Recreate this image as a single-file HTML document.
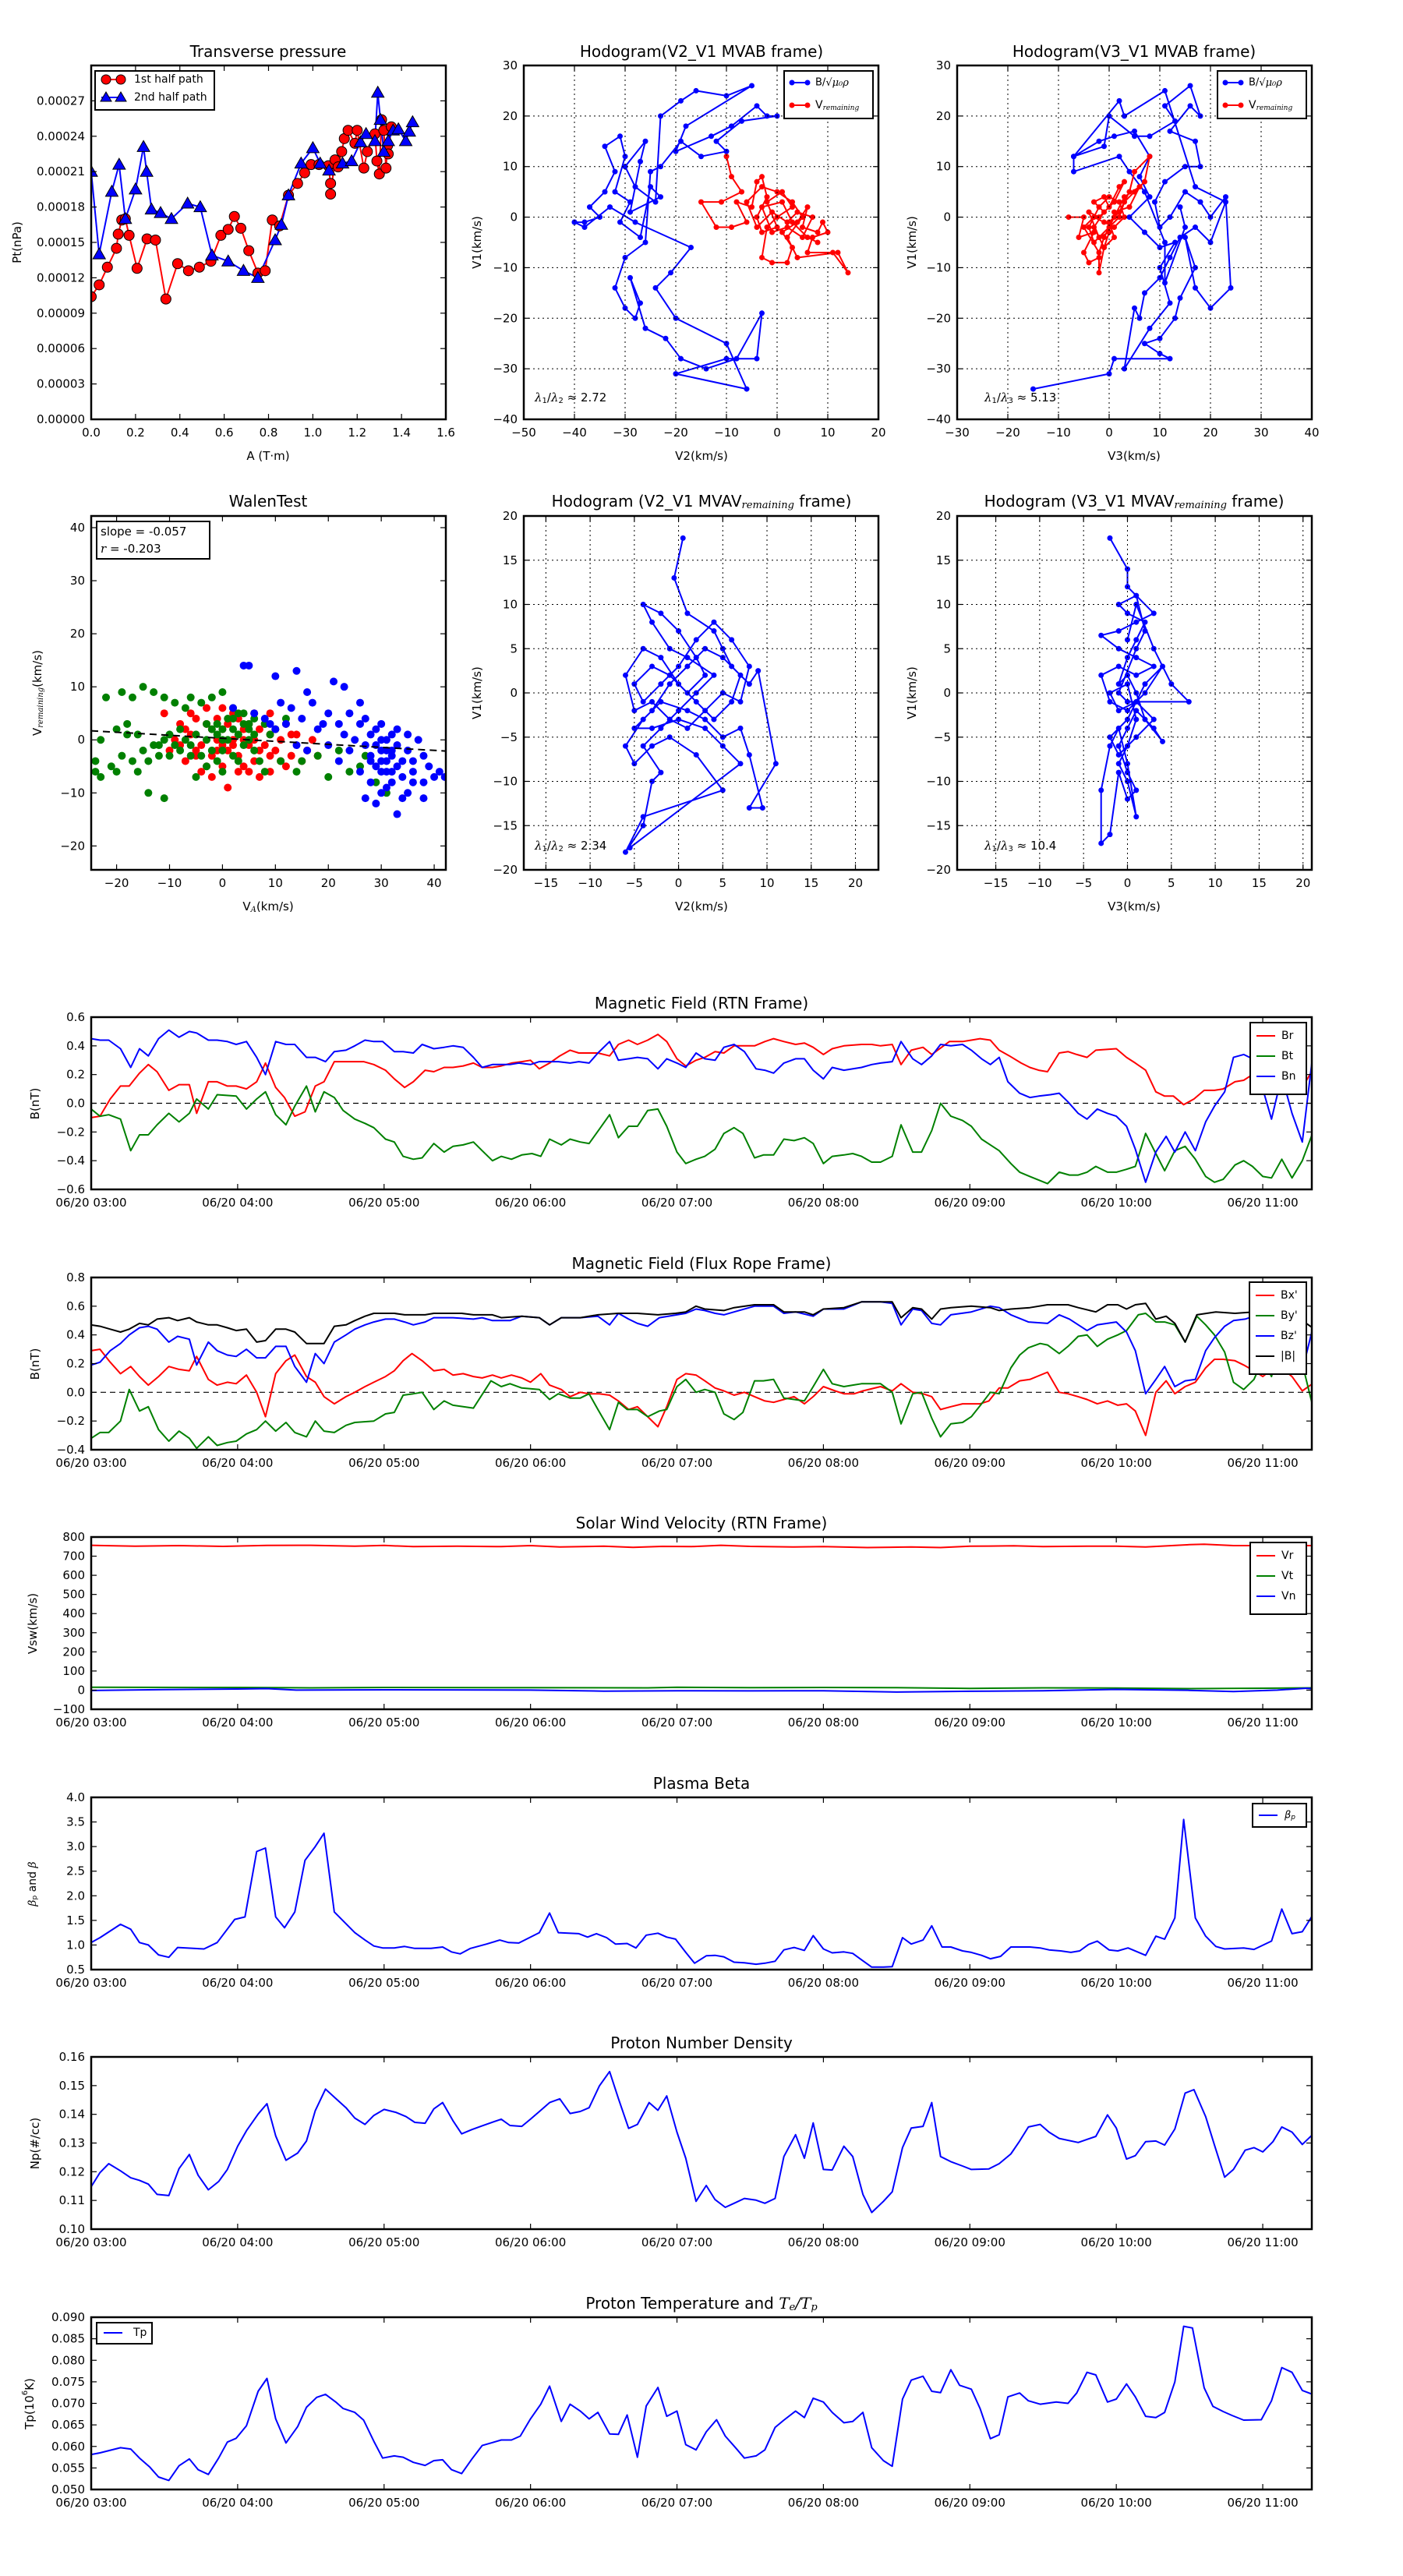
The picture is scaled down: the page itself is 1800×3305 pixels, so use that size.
<!DOCTYPE html>
<html><head><meta charset="utf-8"><style>
html,body{margin:0;padding:0;background:#fff}
svg text{font-family:"DejaVu Sans","Liberation Sans",sans-serif;fill:#000}
</style></head><body>
<svg id="fig" xmlns="http://www.w3.org/2000/svg" width="1800" height="3300" viewBox="0 0 1800 3300"></svg>
<script>
// ---------- DATA ----------
// Transverse pressure
const ptA1=[0,.036,.073,.114,.122,.138,.154,.171,.207,.252,.29,.337,.39,.439,.488,.54,.585,.618,.646,.675,.711,.752,.785,.817,.85,.89,.931,.963,.992,1.028,1.07,1.08,1.08,1.1,1.114,1.13,1.142,1.159,1.19,1.2,1.23,1.246,1.28,1.289,1.3,1.31,1.32,1.33,1.337,1.354,1.34];
const ptP1=[104,114,129,145,157,169,170,156,128,153,152,102,132,126,129,134,156,161,172,162,143,124,126,169,164,190,200,209,216,216,215,200,191,220,214,227,238,245,234,245,213,227,242,219,208,254,245,213,232,248,225];
const ptA2=[0,.036,.093,.126,.154,.2,.236,.25,.272,.313,.362,.435,.492,.545,.618,.687,.752,.83,.858,.89,.947,1.0,1.033,1.073,1.134,1.175,1.215,1.24,1.28,1.293,1.305,1.32,1.34,1.362,1.386,1.419,1.435,1.45];
const ptP2=[210,140,193,216,170,195,231,210,178,175,170,183,180,139,134,126,120,152,165,190,217,230,217,211,217,219,235,242,236,277,254,227,236,245,246,236,244,252];
// Hodogram V2-V1 MVAB
const h1Bx=[-40,-38,-35,-37,-34,-32,-34,-31,-30,-32,-29,-31,-27,-25,-23,-29,-27,-26,-30,-28,-24,-23,-19,-16,-10,-5,-18,-20,-13,-9,-4,-2,0,-7,-12,-10,-15,-19,-23,-25,-26,-30,-32,-30,-28,-27,-29,-26,-22,-19,-14,-8,-3,-4,-10,-20,-6,-10,-20,-24,-21,-17,-28,-33,-38,-40];
const h1By=[-1,-1,0,2,5,9,14,16,12,5,3,-1,-4,6,4,1,11,15,10,6,3,20,23,25,24,26,18,13,16,18,22,20,20,19,15,13,12,15,10,9,-5,-8,-14,-18,-20,-17,-12,-22,-24,-28,-30,-28,-19,-28,-28,-31,-34,-25,-20,-14,-11,-6,-1,2,-2,-1];
const h1Vx=[-10,-9,-7,-11,-15,-12,-9,-6,-8,-5,-4,-3,-2,-4,-3,0,-2,1,3,0,-2,-3,-1,2,3,1,4,6,5,8,9,10,7,6,11,14,12,4,2,5,3,0,-3,-6,-4,-1,2,4,7,5,2,-1,-3,1,3,6,8];
const h1Vy=[12,8,5,3,3,-2,-2,-1,3,2,7,8,4,0,-3,-2,3,5,2,0,-2,-8,-9,-9,-6,-3,-1,2,-2,-3,-1,-3,-4,-7,-7,-11,-7,-8,-4,0,3,5,6,3,-2,1,-1,1,0,-4,-2,-3,2,3,-1,-4,-5];
// Hodogram V3-V1 MVAB
const h2Bx=[-15,0,1,12,10,7,10,13,14,17,15,17,20,24,23,20,18,15,12,10,9,11,15,18,17,12,16,18,16,11,13,8,5,0,-1,-7,-2,1,5,8,6,8,4,7,10,13,10,12,8,3,5,6,7,10,12,14,17,20,23,17,11,3,2,-7,-7,2,4,7,11,11,15,14];
const h2By=[-34,-31,-28,-28,-27,-25,-24,-20,-16,-10,-4,-14,-18,-14,4,0,3,5,0,-2,3,7,10,10,15,17,22,20,26,22,19,16,16,20,14,12,15,16,17,12,8,4,0,-3,-6,-5,-10,-17,-22,-30,-18,-20,-15,-12,-8,-4,-2,-5,3,6,25,20,23,12,9,12,9,5,-5,-13,-2,2];
const h2Vx=[-8,-5,-6,-3,-5,-4,-2,-2,-1,-3,-1,-3,-1,0,2,3,1,-2,-4,-2,0,-1,1,0,2,4,5,8,7,5,3,2,0,-3,-4,-2,0,2,3,1,-1,-3,-5,-2,-1,1,3,6,4,1];
const h2Vy=[0,0,-4,-3,-7,-9,-8,-11,-6,-2,1,3,4,2,6,7,3,0,1,-4,-3,-6,-4,-1,1,5,9,12,7,5,3,0,-2,-5,-2,2,4,3,0,-2,-1,0,-2,-7,-4,0,4,6,2,1];
// Walen test
const wGx=[-24,-23,-21,-20,-19,-18,-17,-16,-15,-14,-14,-13,-12,-12,-11,-11,-10,-9,-8,-8,-7,-6,-5,-5,-4,-3,-3,-2,-1,-1,0,0,1,1,2,2,3,3,4,4,5,5,6,7,8,9,10,11,12,-22,-19,-17,-15,-13,-11,-9,-7,-6,-4,-2,0,2,-18,-16,-20,-23,-24,-10,-6,-3,0,3,6,8,15,14,18,20,22,24,27,29,31,26,-1,2,4,5,6,-2,0];
const wGy=[-6,-7,-5,-6,-3,1,-4,-6,-2,-4,-10,-1,-3,-1,0,-11,1,-1,-2,2,0,-1,1,-7,-3,0,3,-2,1,-4,-2,2,0,4,-3,2,1,5,-1,3,2,0,4,-4,3,1,2,-4,4,8,9,8,10,9,8,7,6,8,7,8,9,6,3,1,2,0,-4,-3,-3,-5,-6,-4,-2,-6,-4,-6,-3,-7,-2,-6,-3,-8,-10,-5,3,4,5,3,1,2,0];
const wRx=[-11,-10,-8,-7,-6,-5,-5,-4,-3,-3,-2,-2,-1,-1,0,0,1,1,2,2,3,3,4,4,5,5,6,6,7,7,8,8,9,9,10,10,11,12,13,14,15,-9,-7,-4,-2,0,1,3,5,7,9,11,-6,-3,0,3,6,9,12,-1,2,4,-5,-8,13,16,17,18];
const wRy=[5,-2,3,-4,1,-2,4,-1,3,-5,2,-3,0,4,-1,2,-2,3,0,5,-3,1,2,-5,-1,3,0,-4,2,-2,-1,3,-3,1,-2,2,0,-5,-3,1,-4,0,2,-6,-7,-5,-9,-6,-6,-7,-6,-4,5,6,6,4,5,5,3,-2,-1,0,-3,-1,1,-2,0,-3];
const wBx=[4,5,10,14,16,21,23,26,2,6,9,11,13,15,17,19,20,22,23,24,25,26,27,28,28,29,29,30,30,31,31,32,32,33,33,34,35,35,36,36,37,38,38,39,40,41,42,27,33,31,29,34,18,16,14,12,10,8,20,22,24,26,28,30,32,34,36,38,27,30,32,33,35,29,30,31,28,30,31,32];
const wBy=[14,14,12,13,9,11,10,7,6,5,3,7,6,4,7,3,5,3,1,5,0,3,-1,1,-3,-5,2,-2,-6,0,-4,-3,-8,-1,-5,-7,-2,-10,-6,-4,0,-3,-8,-5,-7,-6,-7,-11,-14,-9,-12,-11,2,-2,-1,3,2,4,-1,-4,-2,-6,-8,-10,-6,-4,-8,-11,4,3,1,2,1,-1,0,-2,-4,-4,-6,-2];
const wSlope=-0.057, wIntercept=0.3;
// Hodogram remaining frames
const h3x=[0.5,-0.5,1,4,5,6,8,9,11,8,9.5,8,7,5,3,1,-2,-4,-6,-5,-3,-1,2,5,-4,-6,-4,-3,-2,-4,-2,0,2,4,1,-1,-3,-4,-2,0,2,3,1,-1,-3,-5,-4,-2,0,2,4,6,8,7,5,3,1,-1,-3,-5,-6,-4,-2,0,2,4,6,7,5,3,1,-1,-3,-5,-3,0,3,5,7,-5.5];
const h3y=[17.5,13,9,7,5,3,1,2.5,-8,-13,-13,-7,-4,-5,-3,-2,-1,-3,-6,-8,-6,-5,-7,-11,-14,-18,-15,-10,-9,-6,-4,-2,0,2,4,5,8,10,9,7,4,2,0,2,3,1,-1,1,3,6,8,6,3,-1,0,-2,-4,-3,-1,-2,2,5,4,1,-1,-3,-1,2,4,5,3,1,-2,-4,-4,-3,-4,-6,-8,-17.5];
const h4x=[-2,0,0,3,1,-1,-3,-1,1,3,1,-1,-3,-2,0,2,4,2,0,-2,-1,1,3,1,-1,-2,0,1,0,-1,0,1,0,-1,-2,-3,-3,-2,-1,0,1,0,-1,0,1,3,4,2,1,0,-1,0,1,2,0,-1,1,2,1,-1,0,7,5,3,1,0];
const h4y=[17.5,14,12,9,8,7,6.5,5,4,3,2,3,2,-1,-2,0,3,1,-3,-5,-7,-5,-3,-1,-2,0,1,-3,-6,-8,-10,-14,-8,-4,-6,-11,-17,-16,-9,-12,-11,-9,-6,-4,-2,-4,-5.5,-3,0,2,1,4,6,8,9,10,11,7,5,0,-1,-1,1,5,10,6];
// Time series (hours after 03:00)
const tBr=[0,.06,.13,.2,.26,.33,.39,.45,.53,.6,.67,.72,.8,.86,.93,.99,1.06,1.13,1.19,1.26,1.32,1.39,1.46,1.53,1.59,1.66,1.72,1.8,1.86,1.93,2.01,2.07,2.14,2.2,2.28,2.34,2.41,2.47,2.54,2.61,2.67,2.74,2.8,2.87,2.94,3.0,3.06,3.13,3.2,3.27,3.33,3.4,3.46,3.54,3.6,3.67,3.73,3.8,3.87,3.93,4.0,4.06,4.13,4.19,4.26,4.32,4.39,4.53,4.6,4.66,4.73,4.81,4.87,4.93,5.0,5.06,5.14,5.26,5.33,5.39,5.47,5.53,5.6,5.68,5.74,5.86,5.95,6.01,6.07,6.14,6.2,6.27,6.35,6.41,6.47,6.53,6.61,6.67,6.73,6.8,6.86,7.0,7.07,7.13,7.2,7.27,7.33,7.39,7.46,7.53,7.6,7.67,7.73,7.81,7.87,7.93,8.0,8.06,8.13,8.2,8.27,8.34];
const vBr=[-.10,-.09,.03,.12,.12,.21,.27,.22,.09,.13,.13,-.07,.15,.15,.12,.12,.10,.15,.28,.11,.04,-.09,-.06,.12,.15,.29,.29,.29,.29,.27,.23,.17,.11,.15,.23,.22,.25,.25,.26,.28,.25,.25,.26,.28,.29,.30,.24,.28,.33,.37,.35,.35,.35,.33,.41,.44,.41,.44,.48,.43,.31,.26,.30,.32,.36,.35,.40,.40,.43,.45,.43,.41,.42,.39,.34,.38,.40,.41,.41,.40,.41,.27,.37,.39,.34,.43,.43,.44,.45,.44,.37,.33,.28,.25,.23,.22,.35,.36,.34,.32,.37,.38,.32,.28,.23,.08,.05,.05,-.01,.03,.09,.09,.10,.15,.16,.20,.16,.15,.14,.12,.11,.23];
const tBt=[0,.06,.12,.2,.27,.33,.39,.45,.53,.6,.67,.72,.8,.86,.99,1.06,1.13,1.19,1.26,1.33,1.39,1.47,1.53,1.59,1.66,1.72,1.8,1.87,1.93,2.01,2.07,2.13,2.2,2.26,2.34,2.41,2.47,2.54,2.61,2.67,2.74,2.8,2.87,2.94,3.01,3.07,3.13,3.21,3.27,3.34,3.4,3.47,3.54,3.6,3.67,3.73,3.8,3.87,3.93,4.0,4.06,4.13,4.19,4.26,4.32,4.39,4.45,4.53,4.59,4.66,4.73,4.8,4.87,4.93,5.0,5.06,5.14,5.2,5.26,5.33,5.39,5.47,5.53,5.61,5.67,5.74,5.8,5.87,5.95,6.01,6.08,6.14,6.2,6.28,6.34,6.41,6.53,6.61,6.68,6.74,6.8,6.86,6.94,7.0,7.07,7.13,7.2,7.27,7.33,7.4,7.47,7.54,7.61,7.67,7.73,7.81,7.87,7.93,8.0,8.06,8.13,8.2,8.27,8.34];
const vBt=[-.04,-.09,-.08,-.11,-.33,-.22,-.22,-.15,-.07,-.13,-.07,.03,-.04,.06,.05,-.04,.03,.08,-.08,-.15,-.02,.12,-.06,.08,.04,-.05,-.11,-.14,-.17,-.25,-.27,-.37,-.39,-.38,-.28,-.34,-.30,-.29,-.27,-.33,-.40,-.37,-.39,-.36,-.35,-.37,-.25,-.29,-.25,-.27,-.28,-.18,-.08,-.24,-.16,-.16,-.05,-.04,-.16,-.34,-.42,-.39,-.37,-.32,-.21,-.17,-.21,-.38,-.36,-.36,-.25,-.26,-.24,-.28,-.42,-.37,-.36,-.35,-.37,-.41,-.41,-.37,-.15,-.34,-.34,-.19,.00,-.09,-.12,-.16,-.25,-.29,-.33,-.42,-.48,-.51,-.56,-.48,-.50,-.50,-.48,-.44,-.48,-.48,-.46,-.44,-.21,-.35,-.47,-.33,-.30,-.39,-.51,-.55,-.53,-.43,-.40,-.44,-.51,-.52,-.39,-.52,-.40,-.21];
const tBn=[0,.06,.12,.2,.27,.33,.39,.46,.53,.6,.67,.72,.8,.86,.93,.99,1.06,1.13,1.19,1.26,1.33,1.39,1.47,1.53,1.6,1.66,1.74,1.8,1.87,1.93,1.99,2.07,2.13,2.2,2.26,2.34,2.41,2.47,2.54,2.61,2.67,2.74,2.86,2.92,3.0,3.06,3.19,3.27,3.33,3.4,3.46,3.54,3.6,3.67,3.73,3.8,3.87,3.93,4.0,4.06,4.13,4.19,4.26,4.32,4.39,4.46,4.54,4.6,4.66,4.73,4.81,4.87,4.93,5.0,5.06,5.14,5.26,5.33,5.39,5.47,5.53,5.61,5.67,5.74,5.8,5.87,5.95,6.01,6.08,6.14,6.2,6.26,6.34,6.41,6.47,6.55,6.61,6.67,6.74,6.8,6.87,6.94,7.0,7.07,7.13,7.2,7.27,7.34,7.4,7.47,7.54,7.61,7.67,7.74,7.8,7.87,7.93,8.0,8.06,8.13,8.2,8.27,8.34];
const vBn=[.45,.44,.44,.38,.25,.38,.33,.45,.51,.46,.50,.49,.44,.44,.43,.41,.43,.32,.20,.43,.41,.41,.32,.32,.29,.36,.37,.40,.44,.43,.43,.36,.36,.35,.41,.38,.39,.40,.39,.32,.25,.27,.27,.28,.27,.29,.29,.28,.29,.28,.35,.43,.30,.31,.32,.31,.24,.31,.28,.25,.35,.31,.30,.39,.41,.36,.24,.23,.21,.28,.31,.31,.23,.17,.25,.23,.25,.27,.28,.29,.43,.31,.27,.33,.41,.40,.41,.37,.31,.27,.32,.15,.07,.04,.05,.06,.07,.01,-.07,-.11,-.04,-.07,-.09,-.16,-.32,-.55,-.34,-.23,-.34,-.20,-.33,-.13,-.02,.08,.32,.34,.31,.10,-.11,.19,-.07,-.27,.32];
const tB=[0,.06,.13,.2,.26,.33,.39,.45,.53,.59,.67,.72,.8,.86,.93,.99,1.06,1.13,1.19,1.26,1.33,1.39,1.47,1.59,1.66,1.74,1.8,1.87,1.93,2.07,2.14,2.28,2.34,2.53,2.61,2.74,2.8,2.94,3.06,3.13,3.21,3.34,3.46,3.6,3.73,3.87,3.99,4.06,4.13,4.19,4.32,4.39,4.53,4.66,4.73,4.87,4.93,5.0,5.14,5.26,5.39,5.47,5.53,5.61,5.67,5.74,5.8,5.87,6.01,6.14,6.2,6.28,6.41,6.53,6.67,6.74,6.86,6.94,7.01,7.07,7.13,7.2,7.27,7.34,7.4,7.47,7.55,7.68,7.81,7.94,8.06,8.13,8.2,8.27,8.34];
const vB=[.47,.46,.44,.42,.44,.48,.47,.51,.52,.50,.52,.49,.47,.47,.45,.43,.44,.35,.36,.44,.44,.42,.34,.34,.46,.47,.50,.53,.55,.55,.54,.54,.55,.55,.54,.54,.52,.53,.52,.47,.52,.52,.54,.55,.55,.54,.55,.56,.60,.58,.57,.59,.61,.61,.56,.56,.54,.58,.59,.63,.63,.63,.52,.59,.58,.51,.58,.59,.60,.59,.57,.58,.59,.61,.61,.59,.56,.61,.61,.58,.61,.62,.51,.53,.48,.35,.54,.56,.55,.56,.56,.57,.56,.50,.45];
const tBz=[0,.06,.13,.2,.26,.33,.39,.45,.53,.59,.67,.72,.8,.86,.93,.99,1.06,1.13,1.19,1.26,1.33,1.39,1.47,1.53,1.59,1.66,1.74,1.8,1.87,1.93,2.01,2.07,2.14,2.2,2.28,2.34,2.47,2.61,2.67,2.74,2.86,2.94,3.06,3.13,3.21,3.34,3.46,3.54,3.6,3.67,3.73,3.8,3.88,4.0,4.06,4.13,4.19,4.26,4.32,4.39,4.53,4.66,4.73,4.81,4.93,5.0,5.14,5.26,5.39,5.47,5.53,5.61,5.67,5.74,5.8,5.87,6.01,6.14,6.2,6.28,6.4,6.53,6.61,6.68,6.8,6.87,7.0,7.07,7.13,7.2,7.27,7.33,7.4,7.47,7.54,7.61,7.67,7.74,7.8,7.88,7.94,8.06,8.13,8.2,8.27,8.34];
const vBz=[.19,.21,.29,.34,.40,.45,.46,.44,.35,.39,.37,.19,.35,.29,.26,.25,.30,.24,.24,.32,.32,.18,.07,.27,.20,.35,.40,.44,.47,.49,.51,.51,.49,.47,.49,.52,.52,.51,.52,.50,.50,.53,.52,.47,.52,.52,.53,.47,.55,.51,.48,.46,.52,.54,.55,.58,.57,.55,.54,.56,.60,.60,.55,.56,.53,.58,.58,.63,.63,.62,.47,.58,.57,.48,.47,.54,.56,.60,.59,.54,.49,.48,.54,.51,.43,.47,.49,.42,.29,-.01,.09,.18,.04,.08,.09,.29,.38,.46,.50,.51,.53,.53,.55,.35,.15,.44];
const tBx=[0,.06,.13,.2,.27,.33,.39,.46,.53,.6,.67,.72,.8,.86,.93,.99,1.06,1.13,1.19,1.26,1.33,1.39,1.47,1.53,1.59,1.66,1.74,1.8,1.87,1.93,2.01,2.07,2.13,2.19,2.26,2.34,2.41,2.47,2.54,2.61,2.67,2.74,2.8,2.87,2.94,3.0,3.07,3.13,3.21,3.27,3.34,3.4,3.47,3.54,3.6,3.67,3.73,3.8,3.87,3.93,4.0,4.06,4.13,4.19,4.26,4.32,4.39,4.46,4.53,4.6,4.66,4.73,4.8,4.87,4.93,5.0,5.08,5.14,5.21,5.27,5.39,5.47,5.53,5.61,5.68,5.74,5.8,5.87,5.95,6.07,6.13,6.2,6.26,6.34,6.41,6.53,6.61,6.67,6.74,6.8,6.87,6.94,7.01,7.07,7.13,7.2,7.27,7.34,7.4,7.47,7.54,7.61,7.67,7.73,7.81,7.87,7.94,8.0,8.06,8.13,8.2,8.27,8.34];
const vBx=[.29,.30,.21,.13,.18,.11,.05,.11,.18,.16,.15,.25,.09,.05,.07,.06,.12,.00,-.17,.13,.22,.26,.11,.07,-.03,-.08,-.03,.00,.04,.07,.11,.15,.22,.27,.22,.15,.16,.12,.13,.11,.10,.12,.10,.12,.10,.07,.13,.05,.02,-.03,.00,-.01,-.01,-.02,-.06,-.12,-.10,-.17,-.24,-.10,.09,.13,.12,.08,.03,.01,-.02,.00,-.03,-.06,-.07,-.05,-.03,-.08,-.03,.04,.01,-.01,-.01,.01,.04,.01,.06,.00,-.01,-.03,-.12,-.10,-.08,-.08,-.06,.03,.03,.08,.09,.14,.00,-.01,-.03,-.05,-.08,-.06,-.09,-.08,-.13,-.30,.00,.08,-.01,.04,.07,.17,.23,.23,.22,.19,.15,.11,.16,.17,.11,.01,.06];
const tBy=[0,.06,.12,.2,.26,.33,.39,.46,.53,.6,.67,.72,.8,.86,.93,.99,1.06,1.13,1.19,1.26,1.33,1.39,1.47,1.53,1.59,1.66,1.74,1.8,1.93,2.01,2.07,2.13,2.2,2.26,2.34,2.41,2.47,2.61,2.73,2.8,2.86,2.94,3.06,3.13,3.19,3.27,3.34,3.4,3.46,3.54,3.6,3.66,3.73,3.8,3.88,3.93,4.0,4.06,4.13,4.19,4.26,4.32,4.39,4.45,4.53,4.59,4.66,4.73,4.8,4.87,4.93,5.0,5.06,5.14,5.2,5.26,5.39,5.47,5.53,5.61,5.67,5.74,5.8,5.87,5.95,6.01,6.08,6.14,6.2,6.28,6.34,6.4,6.48,6.53,6.61,6.67,6.74,6.8,6.87,6.94,7.01,7.07,7.15,7.2,7.27,7.33,7.4,7.47,7.55,7.61,7.67,7.74,7.8,7.87,7.94,8.0,8.06,8.13,8.2,8.27,8.34];
const vBy=[-.32,-.28,-.28,-.20,.02,-.13,-.10,-.26,-.34,-.27,-.32,-.39,-.31,-.37,-.35,-.34,-.29,-.26,-.20,-.27,-.21,-.28,-.31,-.20,-.27,-.28,-.23,-.21,-.20,-.15,-.14,-.02,-.01,.00,-.12,-.06,-.09,-.11,.08,.04,.06,.03,.02,-.05,-.01,-.04,-.04,-.01,-.12,-.26,-.07,-.12,-.12,-.17,-.13,-.12,.04,.09,.00,.02,.00,-.15,-.19,-.14,.08,.08,.09,-.04,-.05,-.06,.04,.16,.06,.04,.05,.06,.06,.00,-.22,-.01,.00,-.18,-.31,-.22,-.21,-.17,-.08,.00,-.01,.17,.26,.31,.34,.33,.27,.32,.39,.40,.32,.37,.40,.43,.54,.55,.49,.49,.47,.35,.53,.47,.40,.28,.07,.02,.09,.23,.11,.40,.51,.20,-.09];
const tVr=[0,.3,.6,.9,1.2,1.5,1.8,2.0,2.2,2.5,2.8,3.0,3.2,3.5,3.7,3.9,4.1,4.3,4.5,4.8,5.0,5.3,5.6,5.8,6.0,6.3,6.5,6.8,7.0,7.2,7.5,7.6,7.8,8.1,8.34];
const vVr=[757,752,755,751,756,757,752,756,750,752,750,755,748,752,746,751,750,757,751,748,750,745,748,745,752,754,750,752,752,748,760,762,755,755,755];
const tVt=[0,1,1.5,2,3,3.8,4,4.5,5,5.5,6,6.5,7,7.5,8,8.34];
const vVt=[15,14,12,14,13,12,15,13,14,13,9,12,11,8,10,12];
const tVn=[0,.5,1,1.2,1.4,2,3,3.5,4,4.5,5,5.5,6,6.5,7,7.5,7.8,8.1,8.3,8.34];
const vVn=[-2,3,6,8,0,2,0,-5,-3,-4,-3,-10,-6,-3,4,-1,-7,0,10,7];
const tBeta=[0,.06,.2,.27,.33,.39,.46,.53,.59,.77,.86,.98,1.05,1.13,1.19,1.26,1.32,1.39,1.46,1.53,1.59,1.66,1.8,1.87,1.93,1.99,2.07,2.14,2.21,2.32,2.4,2.46,2.52,2.59,2.7,2.79,2.85,2.92,3.06,3.13,3.19,3.33,3.39,3.45,3.52,3.58,3.66,3.72,3.79,3.87,3.93,3.99,4.06,4.12,4.2,4.26,4.32,4.39,4.46,4.54,4.6,4.67,4.73,4.8,4.87,4.93,5.0,5.06,5.14,5.2,5.26,5.33,5.41,5.47,5.54,5.6,5.68,5.74,5.81,5.87,5.95,6.01,6.08,6.14,6.21,6.28,6.41,6.48,6.54,6.62,6.69,6.75,6.81,6.87,6.95,7.01,7.08,7.2,7.27,7.33,7.4,7.46,7.54,7.61,7.68,7.74,7.87,7.94,8.06,8.13,8.2,8.27,8.34];
const vBeta=[1.05,1.15,1.42,1.32,1.05,1.0,.8,.75,.95,.92,1.05,1.52,1.57,2.9,2.97,1.57,1.35,1.67,2.72,3.0,3.27,1.67,1.25,1.1,.98,.94,.94,.97,.93,.93,.96,.86,.82,.93,1.02,1.1,1.05,1.04,1.25,1.65,1.25,1.23,1.16,1.23,1.15,1.02,1.03,.94,1.2,1.24,1.16,1.12,.85,.63,.78,.79,.76,.65,.64,.61,.63,.67,.9,.95,.89,1.19,.92,.84,.86,.83,.7,.55,.55,.56,1.15,1.02,1.1,1.39,.96,.96,.88,.85,.79,.72,.77,.96,.96,.94,.9,.88,.85,.88,1.01,1.08,.9,.88,.94,.79,1.18,1.12,1.55,3.55,1.55,1.18,.97,.92,.94,.91,1.08,1.73,1.23,1.27,1.6];
const tNp=[0,.06,.12,.2,.27,.33,.39,.45,.53,.6,.67,.73,.8,.87,.93,1.0,1.06,1.14,1.2,1.26,1.33,1.41,1.47,1.53,1.6,1.67,1.74,1.8,1.87,1.93,2.0,2.08,2.15,2.21,2.28,2.34,2.4,2.47,2.53,2.6,2.67,2.8,2.86,2.94,3.0,3.07,3.13,3.2,3.27,3.34,3.4,3.47,3.54,3.6,3.67,3.73,3.81,3.87,3.93,4.0,4.06,4.13,4.2,4.26,4.33,4.39,4.46,4.54,4.6,4.67,4.73,4.81,4.87,4.93,5.0,5.06,5.14,5.2,5.27,5.33,5.41,5.47,5.54,5.6,5.68,5.74,5.8,5.87,5.95,6.01,6.13,6.2,6.28,6.34,6.4,6.48,6.54,6.61,6.74,6.86,6.94,7.0,7.07,7.13,7.2,7.27,7.33,7.4,7.47,7.53,7.61,7.67,7.74,7.8,7.88,7.94,8.0,8.07,8.13,8.2,8.27,8.34];
const vNp=[.1148,.1197,.1228,.1203,.1179,.1170,.1157,.1121,.1117,.1211,.1260,.1188,.1137,.1166,.1208,.1289,.1343,.1401,.1437,.1325,.1240,.1265,.1307,.1413,.1488,.1455,.1423,.1387,.1365,.1396,.1417,.1407,.1392,.1372,.1369,.1419,.1441,.1378,.1332,.1347,.1360,.1383,.1361,.1358,.1383,.1414,.1441,.1454,.1403,.1410,.1423,.1499,.1549,.1455,.1351,.1365,.1441,.1414,.1464,.1338,.1247,.1097,.1152,.1103,.1076,.1090,.1107,.1101,.1090,.1107,.1253,.1329,.1247,.1370,.1208,.1206,.1289,.1253,.1121,.1058,.1097,.1130,.1284,.1352,.1358,.1441,.1253,.1235,.1220,.1208,.1210,.1228,.1262,.1307,.1356,.1365,.1338,.1316,.1302,.1323,.1398,.1352,.1244,.1256,.1305,.1307,.1293,.1349,.1474,.1486,.1392,.1293,.1181,.1208,.1275,.1284,.1269,.1305,.1356,.1338,.1295,.1329];
const tTp=[0,.06,.2,.27,.33,.4,.46,.53,.6,.67,.73,.8,.87,.93,.99,1.06,1.14,1.2,1.26,1.33,1.41,1.47,1.54,1.6,1.67,1.72,1.8,1.86,1.93,1.99,2.07,2.13,2.2,2.28,2.34,2.4,2.46,2.53,2.6,2.67,2.74,2.8,2.87,2.93,3.0,3.07,3.13,3.21,3.27,3.34,3.4,3.46,3.54,3.6,3.66,3.73,3.79,3.87,3.93,4.0,4.06,4.13,4.2,4.27,4.33,4.4,4.46,4.54,4.6,4.67,4.73,4.81,4.87,4.93,5.0,5.06,5.14,5.2,5.27,5.33,5.41,5.47,5.54,5.6,5.68,5.74,5.8,5.87,5.93,6.01,6.07,6.14,6.2,6.26,6.34,6.4,6.48,6.59,6.67,6.73,6.8,6.86,6.94,7.0,7.07,7.13,7.2,7.27,7.33,7.4,7.46,7.52,7.6,7.66,7.73,7.79,7.87,7.99,8.06,8.13,8.2,8.27,8.34];
const vTp=[.0581,.0585,.0597,.0594,.0573,.0552,.0529,.0521,.0555,.0571,.0546,.0535,.0573,.0610,.0619,.0648,.0728,.0758,.0664,.0608,.0646,.0691,.0714,.0721,.0703,.0688,.0679,.0661,.0612,.0573,.0578,.0575,.0563,.0556,.0567,.0569,.0546,.0537,.0571,.0602,.0609,.0615,.0615,.0624,.0664,.0698,.0740,.0658,.0698,.0682,.0664,.0679,.0629,.0628,.0673,.0575,.0694,.0737,.0670,.0682,.0604,.0592,.0634,.0662,.0624,.0597,.0573,.0578,.0592,.0644,.0661,.0682,.0667,.0712,.0703,.0679,.0655,.0658,.0679,.0597,.0567,.0554,.0710,.0754,.0763,.0728,.0725,.0778,.0742,.0733,.0688,.0618,.0627,.0715,.0724,.0706,.0698,.0703,.0700,.0724,.0772,.0766,.0703,.0710,.0745,.0715,.0670,.0667,.0679,.0750,.0879,.0875,.0736,.0693,.0681,.0672,.0661,.0662,.0706,.0783,.0772,.0730,.0721];
const hourLabels=["06/20 03:00","06/20 04:00","06/20 05:00","06/20 06:00","06/20 07:00","06/20 08:00","06/20 09:00","06/20 10:00","06/20 11:00"];

// ---------- DRAWING ----------
const NS='http://www.w3.org/2000/svg';
const svg=document.getElementById('fig');
function mk(tag,attrs,parent){const e=document.createElementNS(NS,tag);for(const k in attrs)e.setAttribute(k,attrs[k]);(parent||svg).appendChild(e);return e;}
function txt(s,x,y,size,anchor,parent,rot){const t=mk('text',{x:x,y:y,'font-size':size,'text-anchor':anchor||'middle','dominant-baseline':'central'},parent);if(rot)t.setAttribute('transform','rotate(-90 '+x+' '+y+')');t.textContent=s;return t;}

function makeAxes(name,x0,y0,w,h,xmin,xmax,ymin,ymax){
  const g=mk('g',{});
  
  
  const sx=v=>x0+(v-xmin)/(xmax-xmin)*w;
  const sy=v=>y0+h-(v-ymin)/(ymax-ymin)*h;
  const clipId='c'+name;
  const cp=mk('clipPath',{id:clipId},g);mk('rect',{x:x0,y:y0,width:w,height:h},cp);
  const plot=mk('g',{'clip-path':'url(#'+clipId+')'},g);
  return {g,plot,sx,sy,x0,y0,w,h};
}
function frame(ax){
  const r=mk('rect',{x:ax.x0,y:ax.y0,width:ax.w,height:ax.h,fill:'none',stroke:'#000','stroke-width':2.5},ax.g);
  
  
}
function xticks(ax,vals,labels,grid,size){
  vals.forEach((v,i)=>{const x=ax.sx(v);
    mk('line',{x1:x,y1:ax.y0+ax.h,x2:x,y2:ax.y0+ax.h-7,stroke:'#000','stroke-width':1.2},ax.g);
    mk('line',{x1:x,y1:ax.y0,x2:x,y2:ax.y0+7,stroke:'#000','stroke-width':1.2},ax.g);
    if(grid)mk('line',{x1:x,y1:ax.y0,x2:x,y2:ax.y0+ax.h,stroke:'#000','stroke-width':1,'stroke-dasharray':'2,4'},ax.g);
    const t=txt(labels[i],x,ax.y0+ax.h+17,size||15,'middle',ax.g);
    
    
  });
}
function yticks(ax,vals,labels,grid){
  vals.forEach((v,i)=>{const y=ax.sy(v);
    mk('line',{x1:ax.x0,y1:y,x2:ax.x0+7,y2:y,stroke:'#000','stroke-width':1.2},ax.g);
    mk('line',{x1:ax.x0+ax.w,y1:y,x2:ax.x0+ax.w-7,y2:y,stroke:'#000','stroke-width':1.2},ax.g);
    if(grid)mk('line',{x1:ax.x0,y1:y,x2:ax.x0+ax.w,y2:y,stroke:'#000','stroke-width':1,'stroke-dasharray':'2,4'},ax.g);
    const t=txt(labels[i],ax.x0-8,y,15,'end',ax.g);
    
    
  });
}
function line(ax,xs,ys,color,name,w){
  const d=xs.map((x,i)=>(i?'L':'M')+ax.sx(x).toFixed(1)+' '+ax.sy(ys[i]).toFixed(1)).join('');
  const p=mk('path',{d:d,fill:'none',stroke:color,'stroke-width':w||2,'stroke-linejoin':'round'},ax.plot);
  
  
  return p;
}
function dots(ax,xs,ys,color,r,name,edge){
  const g=mk('g',{},ax.plot);
  
  
  xs.forEach((x,i)=>mk('circle',{cx:ax.sx(x),cy:ax.sy(ys[i]),r:r,fill:color,stroke:edge||'none','stroke-width':1},g));
}
function tris(ax,xs,ys,color,s,name){
  const g=mk('g',{},ax.plot);
  
  
  xs.forEach((x,i)=>{const cx=ax.sx(x),cy=ax.sy(ys[i]);
    mk('polygon',{points:`${cx},${cy-s} ${cx-s},${cy+s*0.75} ${cx+s},${cy+s*0.75}`,fill:color,stroke:'#000','stroke-width':1},g);});
}
function range(a,b,s){const r=[];for(let v=a;v<=b+1e-9;v+=s)r.push(+v.toFixed(6));return r;}
function legendBox(x,y,w,h,name){const r=mk('rect',{x:x,y:y,width:w,height:h,fill:'#fff',stroke:'#000','stroke-width':2});return r;}
function title(s,x,y,name){const t=txt(s,x,y,20,'middle');return t;}

// ----- Panel 1: Transverse pressure -----
{
 const ax=makeAxes('transverse-pressure-plot',117,84,455,454,0,1.6,0,300);
 title('Transverse pressure',344,66,'transverse-pressure-title');
 xticks(ax,range(0,1.6,0.2),range(0,1.6,0.2).map(v=>v.toFixed(1)));
 yticks(ax,range(0,270,30),range(0,270,30).map(v=>(v*1e-6).toFixed(5)));
 line(ax,ptA1,ptP1,'#f00','first-half-line',2);
 line(ax,ptA2,ptP2,'#00f','second-half-line',2);
 dots(ax,ptA1,ptP1,'#f00',6.5,'first-half-markers','#000');
 tris(ax,ptA2,ptP2,'#00f',8,'second-half-markers');
 frame(ax);
 const xl=txt('A (T·m)',344,585,15);
 const yl=txt('Pt(nPa)',22,311,15,'middle',svg,true);
 legendBox(122,91,153,50,'legend');
 mk('line',{x1:130,y1:102,x2:155,y2:102,stroke:'#f00','stroke-width':2});
 mk('circle',{cx:136,cy:102,r:6,fill:'#f00',stroke:'#000'});mk('circle',{cx:155,cy:102,r:6,fill:'#f00',stroke:'#000'});
 let t=txt('1st half path',172,102,14,'start');
 mk('line',{x1:130,y1:125,x2:155,y2:125,stroke:'#00f','stroke-width':2});
 [136,155].forEach(cx=>mk('polygon',{points:`${cx},${118} ${cx-7},${130} ${cx+7},${130}`,fill:'#00f',stroke:'#000'}));
 t=txt('2nd half path',172,125,14,'start');
}
// ----- Hodogram helpers -----
function hodoLegend(x){
 legendBox(x,91,114,61,'legend');
 mk('line',{x1:x+8,y1:106,x2:x+32,y2:106,stroke:'#00f','stroke-width':2});
 mk('circle',{cx:x+10,cy:106,r:3.5,fill:'#00f'});mk('circle',{cx:x+30,cy:106,r:3.5,fill:'#00f'});
 let t=mk('text',{x:x+40,y:106,'font-size':13,'dominant-baseline':'central'});t.innerHTML='B/<tspan font-style="italic" font-family="DejaVu Serif">√μ₀ρ</tspan>';
 
 mk('line',{x1:x+8,y1:135,x2:x+32,y2:135,stroke:'#f00','stroke-width':2});
 mk('circle',{cx:x+10,cy:135,r:3.5,fill:'#f00'});mk('circle',{cx:x+30,cy:135,r:3.5,fill:'#f00'});
 t=mk('text',{x:x+40,y:135,'font-size':14,'dominant-baseline':'central'});t.innerHTML='V<tspan font-size="9" dy="4" font-style="italic" font-family="DejaVu Serif">remaining</tspan>';
 
}
function lambdaText(x,y,sub,val){
 const t=mk('text',{x:x,y:y,'font-size':15,'dominant-baseline':'central'});
 t.innerHTML='<tspan font-style="italic" font-family="DejaVu Serif">λ</tspan><tspan font-size="10" dy="4">1</tspan><tspan dy="-4">/</tspan><tspan font-style="italic" font-family="DejaVu Serif">λ</tspan><tspan font-size="10" dy="4">'+sub+'</tspan><tspan dy="-4"> ≈ '+val+'</tspan>';
 
}
function ylab(s,x,y){const t=txt(s,x,y,15,'middle',svg,true);}
function xlab(s,x,y){const t=txt(s,x,y,15,'middle');}
// ----- Panel 2 -----
{
 const ax=makeAxes('hodogram-v2-v1-mvab',672,84,455,454,-50,20,-40,30);
 title('Hodogram(V2_V1 MVAB frame)',900,66,'hodogram-v2-title');
 xticks(ax,range(-50,20,10),range(-50,20,10).map(v=>v<0?'−'+(-v):''+v),true);
 yticks(ax,range(-40,30,10),range(-40,30,10).map(v=>v<0?'−'+(-v):''+v),true);
 line(ax,h1Bx,h1By,'#00f','b-hodogram-line',2);dots(ax,h1Bx,h1By,'#00f',3.5,'b-hodogram-points');
 line(ax,h1Vx,h1Vy,'#f00','v-hodogram-line',2);dots(ax,h1Vx,h1Vy,'#f00',3.5,'v-hodogram-points');
 frame(ax);hodoLegend(1006);lambdaText(686,510,'2','2.72');
 xlab('V2(km/s)',900,585);ylab('V1(km/s)',612,311);
}
// ----- Panel 3 -----
{
 const ax=makeAxes('hodogram-v3-v1-mvab',1228,84,455,454,-30,40,-40,30);
 title('Hodogram(V3_V1 MVAB frame)',1455,66,'hodogram-v3-title');
 xticks(ax,range(-30,40,10),range(-30,40,10).map(v=>v<0?'−'+(-v):''+v),true);
 yticks(ax,range(-40,30,10),range(-40,30,10).map(v=>v<0?'−'+(-v):''+v),true);
 line(ax,h2Bx,h2By,'#00f','b-hodogram-line',2);dots(ax,h2Bx,h2By,'#00f',3.5,'b-hodogram-points');
 line(ax,h2Vx,h2Vy,'#f00','v-hodogram-line',2);dots(ax,h2Vx,h2Vy,'#f00',3.5,'v-hodogram-points');
 frame(ax);hodoLegend(1562);lambdaText(1263,510,'3','5.13');
 xlab('V3(km/s)',1455,585);ylab('V1(km/s)',1170,311);
}
// ----- Walen test -----
{
 const ax=makeAxes('walen-test-plot',117,662,455,454,-24.8,42.2,-24.5,42.2);
 title('WalenTest',344,643,'walen-test-title');
 xticks(ax,range(-20,40,10),range(-20,40,10).map(v=>v<0?'−'+(-v):''+v));
 yticks(ax,range(-20,40,10),range(-20,40,10).map(v=>v<0?'−'+(-v):''+v));
 dots(ax,wRx,wRy,'#f00',5,'walen-red-points');
 dots(ax,wGx,wGy,'#008000',5,'walen-green-points');
 dots(ax,wBx,wBy,'#00f',5,'walen-blue-points');
 const fx=[-24.8,42.2],fy=fx.map(x=>wIntercept+wSlope*x);
 const fl=line(ax,fx,fy,'#000','walen-fit-line',2);fl.setAttribute('stroke-dasharray','9,6');
 frame(ax);
 legendBox(124,669,145,48,'walen-stats-box');
 let t=txt('slope = -0.057',129,682,15,'start');
 t=mk('text',{x:129,y:704,'font-size':15,'dominant-baseline':'central'});t.innerHTML='<tspan font-style="italic" font-family="DejaVu Serif">r</tspan> = -0.203';
 
 t=mk('text',{x:48,y:889,'font-size':15,'text-anchor':'middle','dominant-baseline':'central',transform:'rotate(-90 48 889)'});
 t.innerHTML='V<tspan font-size="10" dy="4" font-style="italic" font-family="DejaVu Serif">remaining</tspan><tspan dy="-4">(km/s)</tspan>';
 
 t=mk('text',{x:344,y:1163,'font-size':15,'text-anchor':'middle','dominant-baseline':'central'});
 t.innerHTML='V<tspan font-size="10" dy="4" font-style="italic" font-family="DejaVu Serif">A</tspan><tspan dy="-4">(km/s)</tspan>';
 
}
// ----- Hodogram remaining -----
function remTitle(x,s){const t=mk('text',{x:x,y:643,'font-size':20,'text-anchor':'middle','dominant-baseline':'central'});t.innerHTML='Hodogram ('+s+' MVAV<tspan font-size="13" dy="5" font-style="italic" font-family="DejaVu Serif">remaining</tspan><tspan dy="-5"> frame)</tspan>';}
{
 const ax=makeAxes('hodogram-v2-v1-remaining',672,662,455,454,-17.5,22.6,-20,20);
 remTitle(900,'V2_V1');
 xticks(ax,range(-15,20,5),range(-15,20,5).map(v=>v<0?'−'+(-v):''+v),true);
 yticks(ax,range(-20,20,5),range(-20,20,5).map(v=>v<0?'−'+(-v):''+v),true);
 line(ax,h3x,h3y,'#00f','b-remaining-line',2);dots(ax,h3x,h3y,'#00f',3.5,'b-remaining-points');
 frame(ax);lambdaText(686,1085,'2','2.34');
 xlab('V2(km/s)',900,1163);ylab('V1(km/s)',612,889);
}
{
 const ax=makeAxes('hodogram-v3-v1-remaining',1228,662,455,454,-19.4,21.0,-20,20);
 remTitle(1455,'V3_V1');
 xticks(ax,range(-15,20,5),range(-15,20,5).map(v=>v<0?'−'+(-v):''+v),true);
 yticks(ax,range(-20,20,5),range(-20,20,5).map(v=>v<0?'−'+(-v):''+v),true);
 line(ax,h4x,h4y,'#00f','b-remaining-line',2);dots(ax,h4x,h4y,'#00f',3.5,'b-remaining-points');
 frame(ax);lambdaText(1263,1085,'3','10.4');
 xlab('V3(km/s)',1455,1163);ylab('V1(km/s)',1170,889);
}
// ----- Time series -----
const TX0=117,TW=1566,TEND=8.335,TH=221;
function tsAxes(name,ttl,top,ymin,ymax,yt,fmt,yl){
 const ax=makeAxes(name,TX0,top,TW,TH,0,TEND,ymin,ymax);
 if(typeof ttl==='string')title(ttl,900,top-18,name+'-title');
 xticks(ax,range(0,8,1),hourLabels);
 yticks(ax,yt,yt.map(fmt));
 return ax;
}
function tsLegend(x,y,w,items){
 legendBox(x,y,w,items.length*26+14,'legend');
 items.forEach((it,i)=>{const yy=y+17+i*26;
  mk('line',{x1:x+8,y1:yy,x2:x+32,y2:yy,stroke:it[1],'stroke-width':2});
  const t=txt(it[0],x+40,yy,14,'start');});
}
const neg=v=>v<0?'−'+(-v).toFixed(1):v.toFixed(1);
{
 const ax=tsAxes('magnetic-field-rtn',"Magnetic Field (RTN Frame)",1305,-0.6,0.6,range(-0.6,0.6,0.2),neg);
 const z=line(ax,[0,TEND],[0,0],'#000','zero-line',1.2);z.setAttribute('stroke-dasharray','7,5');
 line(ax,tBr,vBr,'#f00','br-line');line(ax,tBt,vBt,'#008000','bt-line');line(ax,tBn,vBn,'#00f','bn-line');
 frame(ax);tsLegend(1604,1312,72,[['Br','#f00'],['Bt','#008000'],['Bn','#00f']]);
 ylab('B(nT)',45,1416);
}
{
 const ax=tsAxes('magnetic-field-flux-rope',"Magnetic Field (Flux Rope Frame)",1639,-0.4,0.8,range(-0.4,0.8,0.2),neg);
 const z=line(ax,[0,TEND],[0,0],'#000','zero-line',1.2);z.setAttribute('stroke-dasharray','7,5');
 line(ax,tBx,vBx,'#f00','bx-line');line(ax,tBy,vBy,'#008000','by-line');line(ax,tBz,vBz,'#00f','bz-line');line(ax,tB,vB,'#000','bmag-line');
 frame(ax);tsLegend(1603,1645,73,[["Bx'",'#f00'],["By'",'#008000'],["Bz'",'#00f'],['|B|','#000']]);
 ylab('B(nT)',45,1750);
}
{
 const ax=tsAxes('solar-wind-velocity',"Solar Wind Velocity (RTN Frame)",1972,-100,800,range(-100,800,100),v=>v<0?'−'+(-v):''+v);
 line(ax,tVr,vVr,'#f00','vr-line');line(ax,tVt,vVt,'#008000','vt-line');line(ax,tVn,vVn,'#00f','vn-line');
 frame(ax);tsLegend(1604,1979,72,[['Vr','#f00'],['Vt','#008000'],['Vn','#00f']]);
 ylab('Vsw(km/s)',42,2083);
}
{
 const ax=tsAxes('plasma-beta',"Plasma Beta",2306,0.5,4.0,range(0.5,4.0,0.5),v=>v.toFixed(1));
 line(ax,tBeta,vBeta,'#00f','beta-line');
 frame(ax);
 legendBox(1607,2314,69,30,'legend');
 mk('line',{x1:1615,y1:2329,x2:1639,y2:2329,stroke:'#00f','stroke-width':2});
 let t=mk('text',{x:1648,y:2329,'font-size':13,'dominant-baseline':'central','font-style':'italic','font-family':'DejaVu Serif'});t.innerHTML='β<tspan font-size="9" dy="3">p</tspan>';
 
 t=mk('text',{x:42,y:2417,'font-size':14,'text-anchor':'middle','dominant-baseline':'central',transform:'rotate(-90 42 2417)'});
 t.innerHTML='<tspan font-style="italic" font-family="DejaVu Serif">β</tspan><tspan font-size="9" dy="3">p</tspan><tspan dy="-3"> and </tspan><tspan font-style="italic" font-family="DejaVu Serif">β</tspan>';
 
}
{
 const ax=tsAxes('proton-number-density',"Proton Number Density",2639,0.10,0.16,range(0.10,0.16,0.01),v=>v.toFixed(2));
 line(ax,tNp,vNp,'#00f','density-line');
 frame(ax);ylab('Np(#/cc)',45,2750);
}
{
 const ax=tsAxes('proton-temperature',null,2973,0.050,0.090,range(0.050,0.090,0.005),v=>v.toFixed(3));
 let t=mk('text',{x:900,y:2955,'font-size':20,'text-anchor':'middle','dominant-baseline':'central'});
 t.innerHTML='Proton Temperature and <tspan font-style="italic" font-family="DejaVu Serif">T</tspan><tspan font-size="13" dy="5" font-style="italic" font-family="DejaVu Serif">e</tspan><tspan dy="-5" font-style="italic" font-family="DejaVu Serif">/T</tspan><tspan font-size="13" dy="5" font-style="italic" font-family="DejaVu Serif">p</tspan>';
 
 line(ax,tTp,vTp,'#00f','temperature-line');
 frame(ax);
 legendBox(124,2980,71,27,'legend');
 mk('line',{x1:133,y1:2993,x2:157,y2:2993,stroke:'#00f','stroke-width':2});
 t=txt('Tp',171,2993,14,'start');
 t=mk('text',{x:38,y:3084,'font-size':15,'text-anchor':'middle','dominant-baseline':'central',transform:'rotate(-90 38 3084)'});
 t.innerHTML='Tp(10<tspan font-size="10" dy="-6">6</tspan><tspan dy="6">K)</tspan>';
 
}
</script>
</body></html>
